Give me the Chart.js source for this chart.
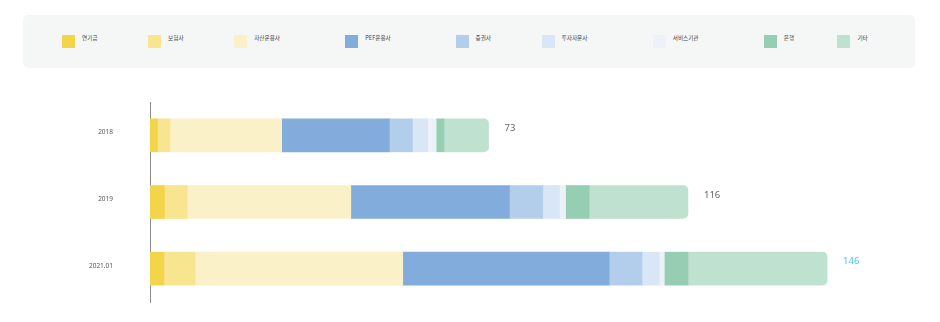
<!DOCTYPE html>
<html lang="ko">
<head>
<meta charset="utf-8">
<script src="https://cdn.jsdelivr.net/npm/chart.js@4"></script>
<style>
    html, body { margin: 0; padding: 0; background: #fff; }
    body { width: 940px; height: 322px; position: relative; overflow: hidden; font-family: "Noto Sans CJK KR", "Noto Sans", sans-serif; }
    #legend {
        position: absolute; left: 23px; top: 15px; width: 892px; height: 53px;
        box-sizing: border-box; padding: 20px 4px 0 39px;
        background: #f5f7f6; border-radius: 5px;
        display: flex; align-items: flex-start;
    }
    .item { display: flex; align-items: flex-start; flex: 0 0 auto; }
    .swatch { width: 13px; height: 13px; margin-right: 7px; flex: none; }
    .label { font-size: 5.6px; line-height: 6px; color: #444; margin-top: 0; white-space: nowrap; }
    #wrap { position: absolute; left: 0; top: 0; width: 940px; height: 322px; }
</style>
</head>
<body>
<div id="wrap"><canvas id="holdings"></canvas></div>
<div id="legend"></div>
<script>
const years = ['2018', '2019', '2021.01'];
const groups = ['연기금', '보험사', '자산운용사', 'PEF운용사', '증권사', '투자자문사', '서비스기관', '은행', '기타'];
const groupColors = ['#f2d548', '#f7e590', '#faf1c9', '#81acdc', '#b3ceeb', '#d9e6f6', '#edf2f9', '#95ceb3', '#bfe1d0'];

// one row per group, one value per year
const pension = [1.6, 3.1, 3.0];
const insurance = [2.7, 4.9, 6.7];
const assetMgmt = [24.1, 35.3, 44.8];
const pef = [23.2, 34.2, 44.5];
const securities = [5.0, 7.2, 7.1];
const advisory = [3.3, 3.6, 3.7];
const services = [1.8, 1.3, 1.1];
const banks = [1.7, 5.1, 5.1];
const others = [9.6, 21.3, 30.0];
const totals = [73, 116, 146];

const series = [pension, insurance, assetMgmt, pef, securities, advisory, services, banks, others];

function buildLegend() {
    const box = document.getElementById('legend');
    groups.forEach((name, i) => {
        const item = document.createElement('div');
        item.className = 'item';
        item.innerHTML = `<span class="swatch" style="background:${groupColors[i]}"></span><span class="label">${name}</span>`;
        box.appendChild(item);
    });
    // spread items in proportion to their natural width
    const items = Array.from(box.children);
    const widths = items.map((el) => el.getBoundingClientRect().width);
    items.forEach((el, i) => { el.style.flex = `${widths[i]} 1 0`; });
}

const totalLabels = {
    id: 'totalLabels',
    afterDatasetsDraw(chart) {
        const { ctx } = chart;
        const last = chart.getDatasetMeta(series.length - 1);
        ctx.save();
        ctx.font = '9.5px "Noto Sans", sans-serif';
        ctx.textBaseline = 'middle';
        ctx.textAlign = 'left';
        last.data.forEach((bar, i) => {
            ctx.fillStyle = i === totals.length - 1 ? '#4fc3ef' : '#666';
            ctx.fillText(String(totals[i]), bar.x + 16, bar.y - 7);
        });
        ctx.restore();
    },
};

buildLegend();

new Chart(document.getElementById('holdings').getContext('2d'), {
    type: 'bar',
    data: {
        labels: years,
        datasets: series.map((data, i) => ({
            label: groups[i],
            data,
            backgroundColor: groupColors[i],
            borderWidth: 0,
            borderRadius: i === series.length - 1 ? 5 : 0,
            barThickness: 33,
        })),
    },
    options: {
        indexAxis: 'y',
        responsive: true,
        maintainAspectRatio: false,
        animation: false,
        layout: { padding: { top: 102, bottom: 20, left: 46, right: 48 } },
        plugins: { legend: { display: false }, tooltip: { enabled: false } },
        scales: {
            x: { stacked: true, display: false, min: 0, max: 160 },
            y: {
                stacked: true,
                grid: { display: false, drawTicks: false },
                border: { display: true, color: '#8c8c8c', width: 1 },
                ticks: {
                    color: '#555',
                    font: { family: '"Noto Sans", sans-serif', size: 6.5 },
                    padding: 37,
                    labelOffset: -3,
                },
                afterFit(scale) {
                    scale.width = 104;
                    // the label gap should not eat into the plot height
                    scale.paddingTop = 0;
                    scale.paddingBottom = 0;
                },
            },
        },
    },
    plugins: [totalLabels],
});
</script>
</body>
</html>
